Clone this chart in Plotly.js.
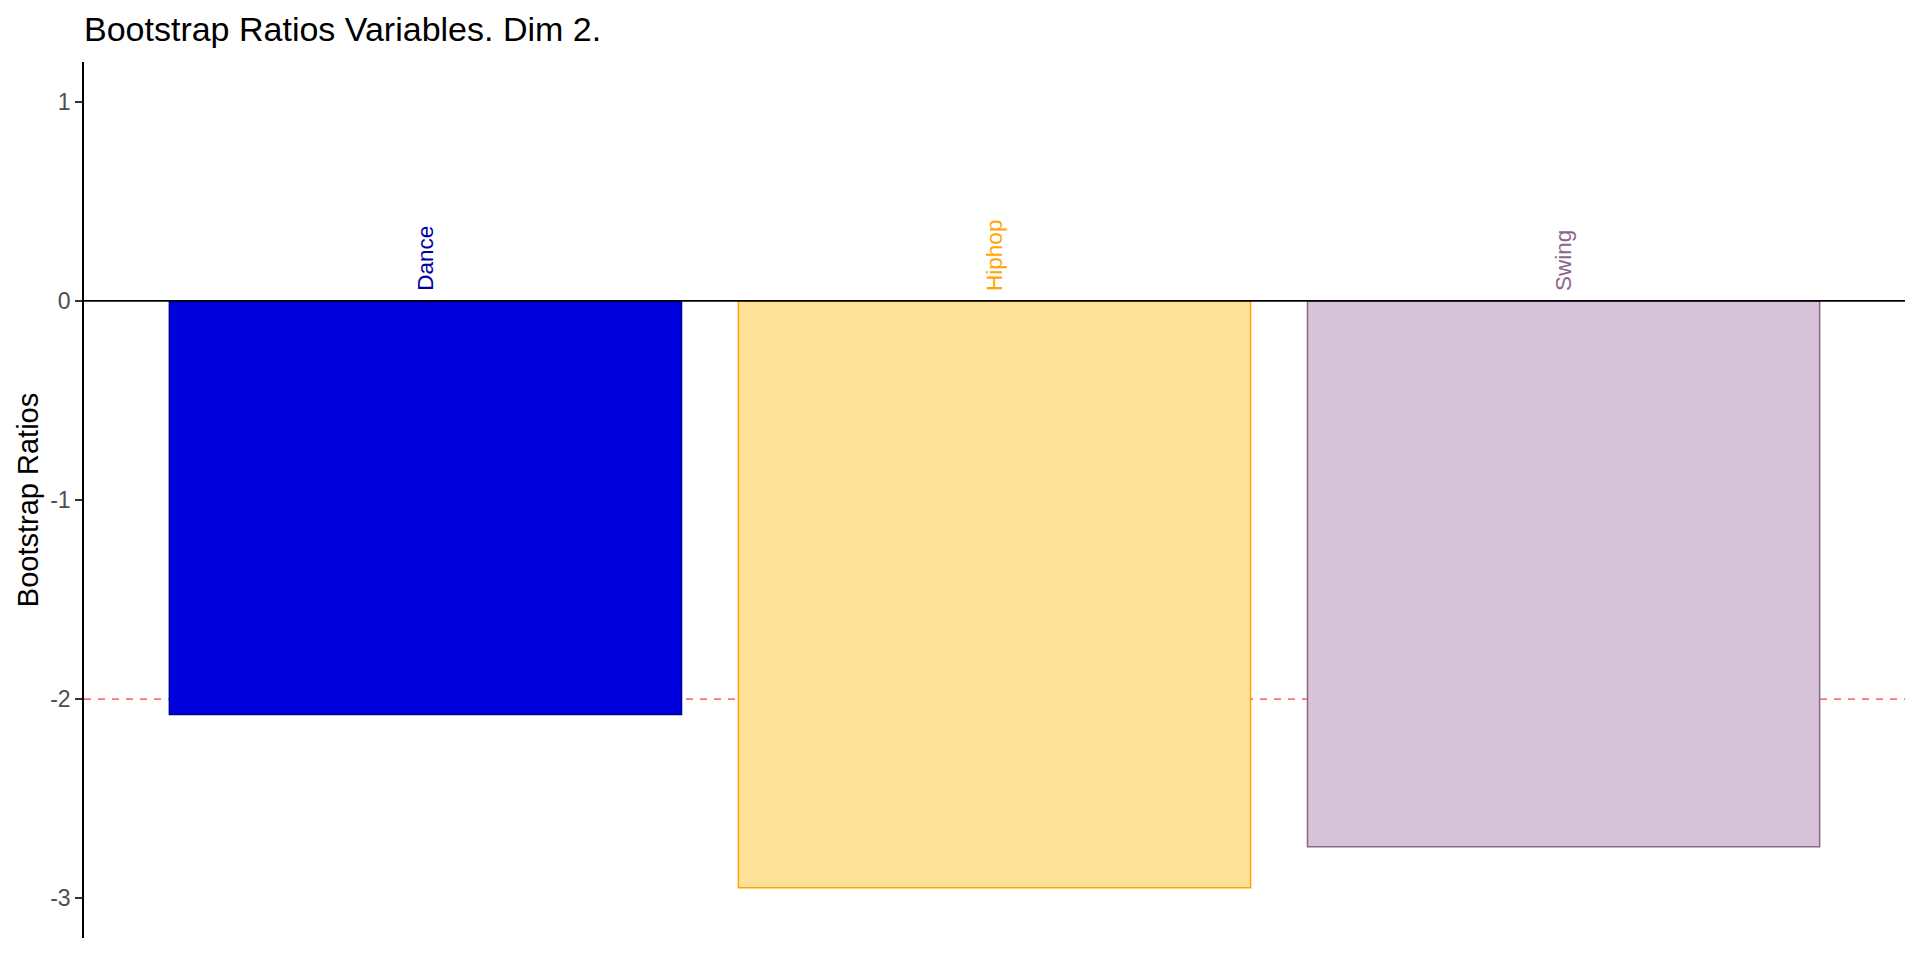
<!DOCTYPE html>
<html>
<head>
<meta charset="utf-8">
<script src="https://cdn.plot.ly/plotly-3.0.1.min.js"></script>
<style>
  html, body { margin: 0; padding: 0; background: #ffffff; }
  #chart { width: 1920px; height: 960px; }
</style>
</head>
<body>
<div id="chart"></div>
<script>
// ---- data ----
const categories = ['Dance', 'Hiphop', 'Swing'];
const bootstrapRatios = [-2.078, -2.948, -2.742];
const yTickValues = [-3, -2, -1, 0, 1];
const yTickLabels = ['-3', '-2', '-1', '0', '1'];
const thresholdValue = -2;

// ---- styles ----
const fillColors = ['#0000DC', '#FEE199', '#D7C3D7'];
const lineColors = ['#00009A', '#FFA500', '#8B668B'];
const labelColors = ['#0000A0', '#FFA500', '#8B668B'];
const FONT = 'Liberation Sans, Arial, Helvetica, sans-serif';

const barTrace = {
  type: 'bar',
  x: categories,
  y: bootstrapRatios,
  width: 0.9,
  marker: {
    color: fillColors,
    line: { color: lineColors, width: 1.5 }
  },
  hoverinfo: 'x+y',
  showlegend: false
};

const annotations = categories.map((c, i) => ({
  x: c,
  y: 0,
  xref: 'x',
  yref: 'y',
  text: c,
  textangle: -90,
  showarrow: false,
  xanchor: 'center',
  yanchor: 'bottom',
  yshift: 8,
  font: { family: FONT, size: 22.5, color: labelColors[i] }
}));

const layout = {
  width: 1920,
  height: 960,
  paper_bgcolor: '#ffffff',
  plot_bgcolor: '#ffffff',
  margin: { l: 84, r: 15, t: 62, b: 22, pad: 0 },
  font: { family: FONT, color: '#000000' },
  title: {
    text: 'Bootstrap Ratios Variables. Dim 2.',
    font: { family: FONT, size: 34, color: '#000000' },
    xref: 'container',
    yref: 'container',
    x: 84 / 1920,
    xanchor: 'left',
    y: 1 - 29 / 960,
    yanchor: 'middle'
  },
  xaxis: {
    type: 'category',
    range: [-0.6, 2.6],
    showticklabels: false,
    showline: false,
    showgrid: false,
    zeroline: false,
    ticks: ''
  },
  yaxis: {
    range: [-3.2, 1.2],
    tickmode: 'array',
    tickvals: yTickValues,
    ticktext: yTickLabels,
    showline: true,
    linecolor: '#000000',
    linewidth: 1.5,
    ticks: 'outside',
    ticklen: 7,
    tickwidth: 1.5,
    tickcolor: '#333333',
    tickfont: { family: FONT, size: 23, color: '#4D4D4D' },
    showgrid: false,
    zeroline: false,
    title: {
      text: 'Bootstrap Ratios',
      font: { family: FONT, size: 29, color: '#000000' },
      standoff: 3
    }
  },
  shapes: [
    {
      type: 'line', layer: 'below',
      xref: 'paper', x0: 0, x1: 1,
      yref: 'y', y0: thresholdValue, y1: thresholdValue,
      line: { color: '#F8766D', width: 1.6, dash: '7px,7px' }
    },
    {
      type: 'line', layer: 'above',
      xref: 'paper', x0: 0, x1: 1,
      yref: 'y', y0: 0, y1: 0,
      line: { color: '#000000', width: 1.7 }
    }
  ],
  annotations: annotations,
  bargap: 0.1
};

Plotly.newPlot('chart', [barTrace], layout, { displayModeBar: false, responsive: false });
</script>
</body>
</html>
